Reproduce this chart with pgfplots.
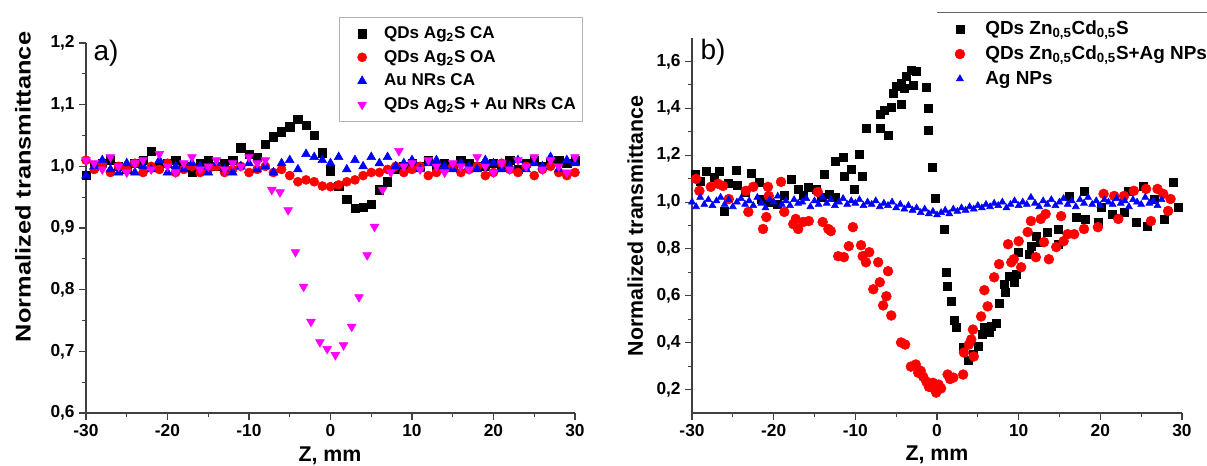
\documentclass[border=0pt]{standalone}
\usepackage{fontspec}
\setmainfont{Liberation Sans}
\usepackage{pgfplots}
\pgfplotsset{compat=1.18}

\definecolor{mag}{RGB}{255,0,255}

\pgfplotsset{
  zscan/.style={
    scale only axis,
    axis lines=left,
    axis line style={-, black!75, line width=0.9pt},
    tick align=outside,
    major tick length=5pt,
    minor tick length=3pt,
    every tick/.style={black!75, line width=0.8pt},
    xmin=-30, xmax=30,
    xtick={-30,-20,-10,0,10,20,30},
    minor x tick num=1,
    minor y tick num=1,
    ticklabel style={font=\fontsize{13}{15}\selectfont\bfseries},
    /pgf/number format/assume math mode=true,
    /pgf/number format/use comma,
    yticklabel style={/pgf/number format/fixed, /pgf/number format/fixed zerofill, /pgf/number format/precision=1},
    xlabel={Z, mm},
    ylabel={Normalized transmittance},
    label style={font=\fontsize{16}{19}\selectfont\bfseries},
    clip=false,
    legend cell align=left,
    legend style={font=\fontsize{12.8}{15}\selectfont\bfseries, inner xsep=3pt, inner ysep=5pt},
  }
}

\begin{document}
\begin{tikzpicture}
\useasboundingbox (0,0) rectangle (905.25pt,348.75pt);
\clip (0,0) rectangle (905.25pt,348.75pt);

% ---- panel a ----
\begin{axis}[zscan,
  at={(64.5pt,39pt)}, anchor=south west,
  width=366.75pt, height=277.5pt,
  ymin=0.6, ymax=1.2,
  ytick={0.6,0.7,0.8,0.9,1.0,1.1,1.2},
  xlabel style={at={(axis description cs:0.499,-0.116)}, anchor=center},
  ylabel style={at={(axis description cs:-0.129,0.611)}, anchor=center, xscale=1.19},
  legend style={at={(1.016,1.07)}, anchor=north east, draw=gray!60, row sep=3.3pt},
  legend image code/.code={\path[draw=none, fill=none] (0pt,-2pt) rectangle (28.5pt,2pt); \draw[#1] plot[only marks] coordinates {(14pt,0pt)};},
]
\addplot[only marks, mark=square*, mark size=3.1pt, color=black] coordinates {
(-30,0.985)(-29,1.0)(-28,1.005)(-27,1.01)(-26,1.0)(-25,0.995)(-24,1.005)(-23,1.01)
(-22,1.025)(-21,1.0)(-20,1.005)(-19,1.01)(-18,1.0)(-17,0.99)(-16,1.005)(-15,1.01)
(-14,1.0)(-13,1.005)(-12,1.01)(-11,1.03)(-10,1.02)(-9,1.015)(-8,1.036)(-7,1.048)
(-6,1.056)(-5,1.064)(-4,1.076)(-3,1.067)(-2,1.05)(-1,1.022)(0,0.993)(1,0.968)
(2,0.947)(3,0.932)(4,0.934)(5,0.939)(6,0.962)(7,0.975)(8,0.995)(9,1.0)
(10,1.005)(11,1.0)(12,1.01)(13,1.0)(14,1.005)(15,1.0)(16,1.01)(17,1.005)
(18,1.0)(19,1.0)(20,1.005)(21,1.0)(22,1.01)(23,0.995)(24,1.005)(25,1.01)
(26,1.0)(27,1.005)(28,1.01)(29,1.005)(30,1.01)
};
\addlegendentry{QDs Ag\textsubscript{2}S CA}
\addplot[only marks, mark=*, mark size=3.4pt, color=red] coordinates {
(-30,1.01)(-29,0.995)(-28,1.005)(-27,0.99)(-26,1.0)(-25,0.995)(-24,1.005)(-23,0.99)
(-22,1.0)(-21,0.995)(-20,1.005)(-19,0.99)(-18,0.995)(-17,1.0)(-16,0.99)(-15,0.995)
(-14,1.0)(-13,0.99)(-12,0.995)(-11,1.0)(-10,0.99)(-9,0.995)(-8,1.0)(-7,0.99)
(-6,0.995)(-5,0.985)(-4,0.975)(-3,0.978)(-2,0.975)(-1,0.968)(0,0.967)(1,0.97)
(2,0.975)(3,0.978)(4,0.985)(5,0.99)(6,0.99)(7,0.995)(8,1.0)(9,0.99)
(10,0.995)(11,1.0)(12,0.985)(13,0.99)(14,0.995)(15,1.0)(16,0.99)(17,0.995)
(18,1.0)(19,0.985)(20,0.99)(21,1.005)(22,0.995)(23,0.99)(24,1.0)(25,0.985)
(26,0.995)(27,1.0)(28,0.99)(29,0.985)(30,0.99)
};
\addlegendentry{QDs Ag\textsubscript{2}S OA}
\addplot[only marks, mark=triangle*, mark size=3.8pt, color=blue] coordinates {
(-30,0.985)(-29,1.0)(-28,1.01)(-27,0.995)(-26,0.99)(-25,1.005)(-24,0.99)(-23,1.0)
(-22,0.995)(-21,1.01)(-20,0.99)(-19,1.0)(-18,0.995)(-17,1.005)(-16,1.0)(-15,0.99)
(-14,1.005)(-13,0.995)(-12,0.99)(-11,1.0)(-10,1.005)(-9,0.995)(-8,1.0)(-7,0.99)
(-6,1.005)(-5,1.01)(-4,0.995)(-3,1.02)(-2,1.015)(-1,1.01)(0,1.005)(1,1.015)
(2,0.995)(3,1.01)(4,1.0)(5,1.015)(6,1.005)(7,1.015)(8,1.0)(9,1.005)
(10,1.01)(11,0.995)(12,1.005)(13,1.01)(14,1.0)(15,0.995)(16,1.005)(17,1.0)
(18,0.995)(19,1.01)(20,1.005)(21,0.995)(22,1.0)(23,1.01)(24,0.995)(25,1.005)
(26,1.0)(27,1.015)(28,0.995)(29,1.01)(30,1.005)
};
\addlegendentry{Au NRs CA}
\addplot[only marks, mark=triangle*, mark size=3.8pt, mark options={rotate=180}, color=mag] coordinates {
(-30,1.01)(-29,1.005)(-28,0.995)(-27,1.015)(-26,1.0)(-25,0.99)(-24,1.005)(-23,1.01)
(-22,0.995)(-21,1.02)(-20,1.0)(-19,0.99)(-18,1.005)(-17,1.015)(-16,0.995)(-15,1.0)
(-14,1.01)(-13,0.995)(-12,1.005)(-11,1.0)(-10,1.015)(-9,1.005)(-8,1.01)
(-7.2,0.962)(-6.2,0.958)(-5.2,0.929)(-4.3,0.861)(-3.3,0.805)(-2.4,0.748)(-1.3,0.715)
(-0.4,0.704)(0.6,0.694)(1.6,0.71)(2.6,0.74)(3.5,0.788)(4.5,0.856)(5.4,0.902)(6.4,0.962)
(7.4,0.99)(8.4,1.025)(9,1.0)(10,1.005)(11,0.995)(12,1.01)(13,1.0)(14,0.99)
(15,1.005)(16,1.0)(17,0.995)(18,1.015)(19,1.0)(20,0.99)(21,1.005)(22,0.995)
(23,1.01)(24,1.0)(25,1.015)(26,0.995)(27,1.01)(28,1.0)(29,0.99)(30,1.015)
};
\addlegendentry{QDs Ag\textsubscript{2}S + Au NRs CA}
\node[font=\fontsize{21}{24}\selectfont] at (rel axis cs:0.041,0.973) {a)};
\end{axis}

% ---- panel b ----
\begin{axis}[zscan,
  at={(519pt,39pt)}, anchor=south west,
  width=367.5pt, height=281.25pt,
  ymin=0.1, ymax=1.7,
  ytick={0.2,0.4,0.6,0.8,1.0,1.2,1.4,1.6},
  xlabel style={at={(axis description cs:0.5,-0.112)}, anchor=center},
  ylabel style={at={(axis description cs:-0.116,0.499)}, anchor=center},
  legend style={at={(0.5,1.067)}, anchor=north west, draw=none, fill=none, row sep=3pt,
    font=\fontsize{14.2}{17}\selectfont\bfseries, inner ysep=4pt},
  legend image code/.code={\path[draw=none, fill=none] (0pt,-2pt) rectangle (31pt,2pt); \draw[#1] plot[only marks] coordinates {(14pt,0pt)};},
]
\addplot[only marks, mark=square*, mark size=3pt, color=black] coordinates {
(-29.6,1.12)(-29.0,1.09)(-28.3,1.13)(-27.3,1.107)(-26.7,1.133)(-26.1,0.962)(-25.5,1.08)(-24.6,1.137)
(-24.4,1.07)(-23.5,1.04)(-22.8,1.124)(-21.8,1.086)(-21.5,1.013)(-20.5,1.0)(-19.5,0.99)(-18.7,1.03)
(-17.9,1.099)(-17.0,1.056)(-16.4,1.03)(-15.8,1.063)(-14.8,1.056)(-14.2,1.02)(-13.8,1.12)(-13.2,1.035)
(-12.4,1.022)(-12.4,1.176)(-11.5,1.193)(-11.4,1.112)(-10.5,1.142)(-10.1,1.056)(-9.5,1.206)(-9.1,1.112)
(-8.7,1.313)(-7.0,1.373)(-7.0,1.313)(-6.5,1.39)(-6.0,1.283)(-5.6,1.403)(-5.4,1.463)(-5.0,1.493)
(-4.4,1.416)(-4.4,1.506)(-4.0,1.484)(-3.8,1.536)(-3.2,1.561)(-2.9,1.497)(-2.6,1.557)(-1.3,1.489)
(-1.1,1.399)(-1.1,1.305)(-0.6,1.15)(-0.2,1.018)(0.9,0.885)(1.1,0.70)(1.3,0.64)(1.8,0.576)
(2.1,0.495)(2.4,0.465)(3.2,0.379)(3.8,0.324)(4.5,0.35)(5.1,0.384)(5.6,0.435)(5.8,0.465)
(6.4,0.444)(6.6,0.47)(7.2,0.482)(7.6,0.568)(8.2,0.649)(8.4,0.615)(8.8,0.683)(9.4,0.658)
(9.7,0.692)(10.0,0.786)(11.3,0.778)(11.5,0.812)(12.1,0.855)(12.7,0.829)(13.5,0.87)(14.8,0.82)
(14.8,0.885)(16.2,1.026)(17.0,0.936)(18.0,1.048)(18.2,0.928)(19.7,0.915)(20.1,0.979)(21.5,0.95)
(22.9,0.958)(23.4,1.048)(24.4,0.915)(25.2,1.069)(25.8,0.898)(26.6,1.013)(27.8,0.928)(28.9,1.086)
(29.5,0.979)
};
\addlegendentry{QDs Zn\textsubscript{0,5}Cd\textsubscript{0,5}S}
\addplot[only marks, mark=*, mark size=3.7pt, color=red] coordinates {
(-29.5,1.099)(-29.1,1.048)(-27.7,1.065)(-26.8,1.078)(-26.2,1.069)(-25.5,1.013)(-23.4,1.048)(-23.1,0.958)
(-22.5,1.065)(-21.3,0.885)(-20.9,0.936)(-20.7,1.065)(-20.6,1.026)(-19.1,1.086)(-18.7,0.958)(-17.6,0.906)
(-17.3,0.928)(-17.0,0.885)(-16.4,0.915)(-15.7,0.919)(-14.6,1.043)(-14.0,0.915)(-13.3,0.885)(-13.0,0.876)
(-12.1,0.769)(-11.4,0.765)(-10.8,0.812)(-10.3,0.893)(-9.3,0.816)(-9.1,0.769)(-8.7,0.743)(-8.3,0.786)
(-7.8,0.628)(-7.2,0.743)(-7.0,0.658)(-6.6,0.559)(-6.2,0.598)(-6.0,0.705)(-5.6,0.516)(-4.4,0.401)
(-3.9,0.392)(-3.2,0.298)(-2.6,0.307)(-2.3,0.272)(-2.0,0.28)(-1.7,0.255)(-1.3,0.234)(-1.0,0.212)
(-0.7,0.21)(-0.5,0.229)(-0.1,0.187)(0.2,0.221)(0.5,0.205)(1.3,0.264)(1.6,0.245)(2.0,0.251)
(3.2,0.264)(3.3,0.358)(3.9,0.392)(4.2,0.414)(4.4,0.456)(4.5,0.341)(5.4,0.512)(5.8,0.624)
(6.2,0.555)(7.0,0.679)(7.6,0.735)(8.7,0.82)(9.1,0.743)(9.4,0.756)(10.0,0.833)(10.3,0.722)
(11.1,0.872)(11.5,0.919)(12.1,0.765)(12.7,0.928)(13.1,0.829)(13.3,0.949)(13.7,0.756)(14.6,0.808)
(15.2,0.94)(15.5,0.833)(16.0,0.863)(16.8,0.863)(18.0,0.885)(19.7,0.893)(20.4,1.035)(21.7,1.026)
(22.2,0.928)(22.9,1.026)(24.1,1.048)(25.6,1.056)(26.2,0.919)(27.0,1.056)(27.7,1.035)(28.3,0.962)
(28.6,1.013)
};
\addlegendentry{QDs Zn\textsubscript{0,5}Cd\textsubscript{0,5}S+Ag NPs}
\addplot[only marks, mark=triangle*, mark size=3pt, color=blue] coordinates {
(-30.0,1.00)(-29.5,0.98)(-29.0,1.02)(-28.5,0.99)(-28.0,1.01)(-27.5,0.985)(-27.0,1.005)(-26.5,1.02)
(-26.0,0.99)(-25.5,1.01)(-25.0,0.98)(-24.5,1.0)(-24.0,1.015)(-23.5,0.99)(-23.0,1.005)(-22.5,0.985)
(-22.0,1.02)(-21.5,0.995)(-21.0,0.975)(-20.5,1.01)(-20.0,1.0)(-19.5,1.025)(-19.0,0.99)(-18.5,1.005)
(-18.0,0.985)(-17.5,1.01)(-17.0,0.995)(-16.5,1.0)(-16.0,1.015)(-15.5,0.98)(-15.0,1.005)(-14.5,0.99)
(-14.0,1.02)(-13.5,0.995)(-13.0,1.01)(-12.5,0.985)(-12.0,1.0)(-11.5,1.015)(-11.0,0.99)(-10.5,1.005)
(-10.0,0.995)(-9.5,1.01)(-9.0,0.985)(-8.5,1.0)(-8.0,0.99)(-7.5,1.005)(-7.0,0.98)(-6.5,0.995)
(-6.0,0.985)(-5.5,1.0)(-5.0,0.975)(-4.5,0.99)(-4.0,0.97)(-3.5,0.985)(-3.0,0.965)(-2.5,0.975)
(-2.0,0.955)(-1.5,0.97)(-1.0,0.95)(-0.5,0.96)(0.0,0.945)(0.5,0.955)(1.0,0.965)(1.5,0.95)
(2.0,0.97)(2.5,0.96)(3.0,0.975)(3.5,0.965)(4.0,0.98)(4.5,0.97)(5.0,0.985)(5.5,0.975)
(6.0,0.99)(6.5,0.98)(7.0,0.995)(7.5,0.985)(8.0,1.0)(8.5,0.975)(9.0,0.99)(9.5,1.005)
(10.0,0.985)(10.5,1.0)(11.0,0.99)(11.5,1.02)(12.0,0.995)(12.5,0.98)(13.0,1.005)(13.5,0.99)
(14.0,1.01)(14.5,0.985)(15.0,1.0)(15.5,1.015)(16.0,0.99)(16.5,1.005)(17.0,0.98)(17.5,1.01)
(18.0,0.995)(18.5,1.02)(19.0,0.99)(19.5,1.005)(20.0,0.985)(20.5,1.01)(21.0,1.0)(21.5,0.99)
(22.0,1.015)(22.5,0.995)(23.0,1.005)(23.5,0.98)(24.0,1.01)(24.5,1.0)(25.0,0.99)(25.5,1.02)
(26.0,0.995)(26.5,1.005)(27.0,0.985)(27.5,1.01)
};
\addlegendentry{Ag NPs}
\node[font=\fontsize{21}{24}\selectfont] at (rel axis cs:0.043,0.963) {b)};
\draw[black!60, line width=0.6pt] (rel axis cs:0.5,1.067) -- (rel axis cs:1.2,1.067);
\end{axis}
\end{tikzpicture}
\end{document}
